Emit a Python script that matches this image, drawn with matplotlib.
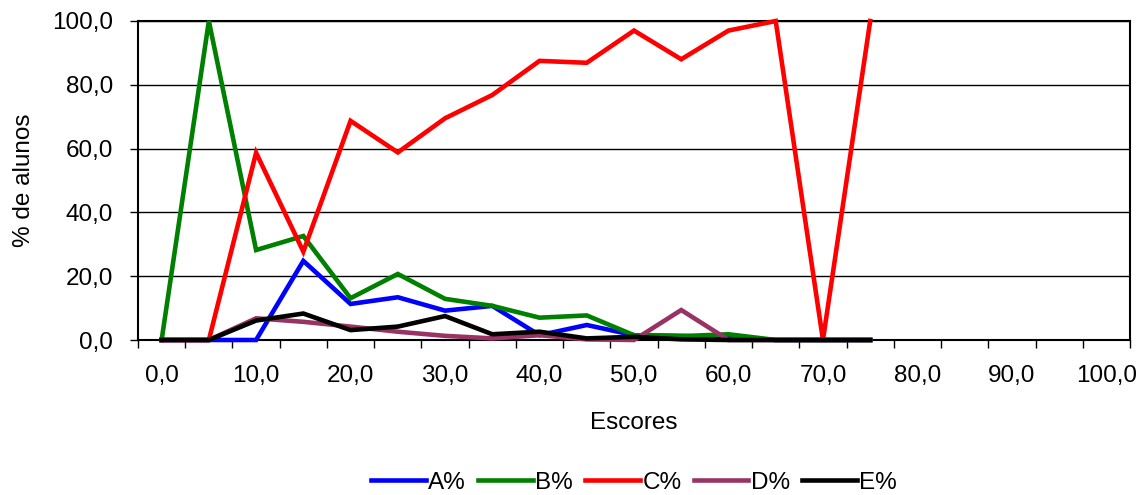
import matplotlib
matplotlib.use("Agg")
import matplotlib.pyplot as plt
from matplotlib.ticker import FixedLocator, FuncFormatter

plt.rcParams['font.family'] = ['Liberation Sans', 'DejaVu Sans']

# Categories: scores 0,5,...,100
scores = [0, 5, 10, 15, 20, 25, 30, 35, 40, 45, 50, 55, 60, 65, 70, 75,
          80, 85, 90, 95, 100]

a_pct = [0, 0, 0, 24.8, 11.3, 13.4, 9.2, 10.7, 1.5, 4.7, 1.5, 1.3, 0.8, 0, 0, 0]
b_pct = [0, 100, 28.2, 32.6, 13.1, 20.7, 12.9, 10.7, 7.0, 7.7, 1.5, 1.2, 1.8, 0, 0, 0]
c_pct = [0, 0, 58.7, 27.7, 68.7, 58.8, 69.5, 76.8, 87.5, 86.9, 97.0, 88.0, 97.0, 100, 0, 100]
d_pct = [0, 0, 6.8, 5.7, 4.2, 2.6, 1.3, 0.5, 1.5, 0.2, 0, 9.4, 0, 0, 0, 0]
e_pct = [0, 0, 6.1, 8.3, 3.1, 4.2, 7.5, 1.8, 2.6, 0.5, 1.0, 0.2, 0, 0, 0, 0]

series = [("A%", a_pct, "#0000FF"), ("B%", b_pct, "#008000"),
          ("C%", c_pct, "#FF0000"), ("D%", d_pct, "#993366"),
          ("E%", e_pct, "#000000")]

fig = plt.figure(figsize=(11.48, 4.95), dpi=100)
ax = fig.add_axes([138/1148, 1-340/495, (1130-138)/1148, (340-21)/495])

FS = 17.5
for name, vals, col in series:
    ax.plot(range(len(vals)), vals, color=col, lw=3.3, label=name,
            solid_joinstyle='miter', clip_on=False, zorder=3)

ax.set_xlim(-0.5, len(scores) - 0.5)
ax.set_ylim(0, 100)

# x: labels every other category, tick marks at category boundaries
major = list(range(0, len(scores), 2))
ax.xaxis.set_major_locator(FixedLocator(major))
ax.set_xticklabels([f"{scores[i]:.1f}".replace('.', ',') for i in major])
ax.xaxis.set_minor_locator(FixedLocator([i - 0.5 for i in range(len(scores) + 1)]))
ax.tick_params(axis='x', which='major', length=0, pad=18, labelsize=FS)
ax.tick_params(axis='x', which='minor', length=5.5, width=1, direction='out')

ax.set_yticks([0, 20, 40, 60, 80, 100])
ax.yaxis.set_major_formatter(FuncFormatter(lambda v, p: f"{v:.1f}".replace('.', ',')))
ax.tick_params(axis='y', length=6, width=1, direction='out', pad=12, labelsize=FS)

ax.grid(axis='y', color='#000000', lw=1, zorder=0)
for s in ax.spines.values():
    s.set_color('black')
    s.set_linewidth(1.5)

ax.set_xlabel("Escores", fontsize=FS, labelpad=18)
ax.set_ylabel("% de alunos", fontsize=FS, labelpad=12)

fig.legend(loc='center', bbox_to_anchor=(634/1148, 1-483/495), ncol=5,
           frameon=False, fontsize=FS, handlelength=2.25, handletextpad=0.1,
           columnspacing=0.5)

fig.savefig("out.png", dpi=100)
